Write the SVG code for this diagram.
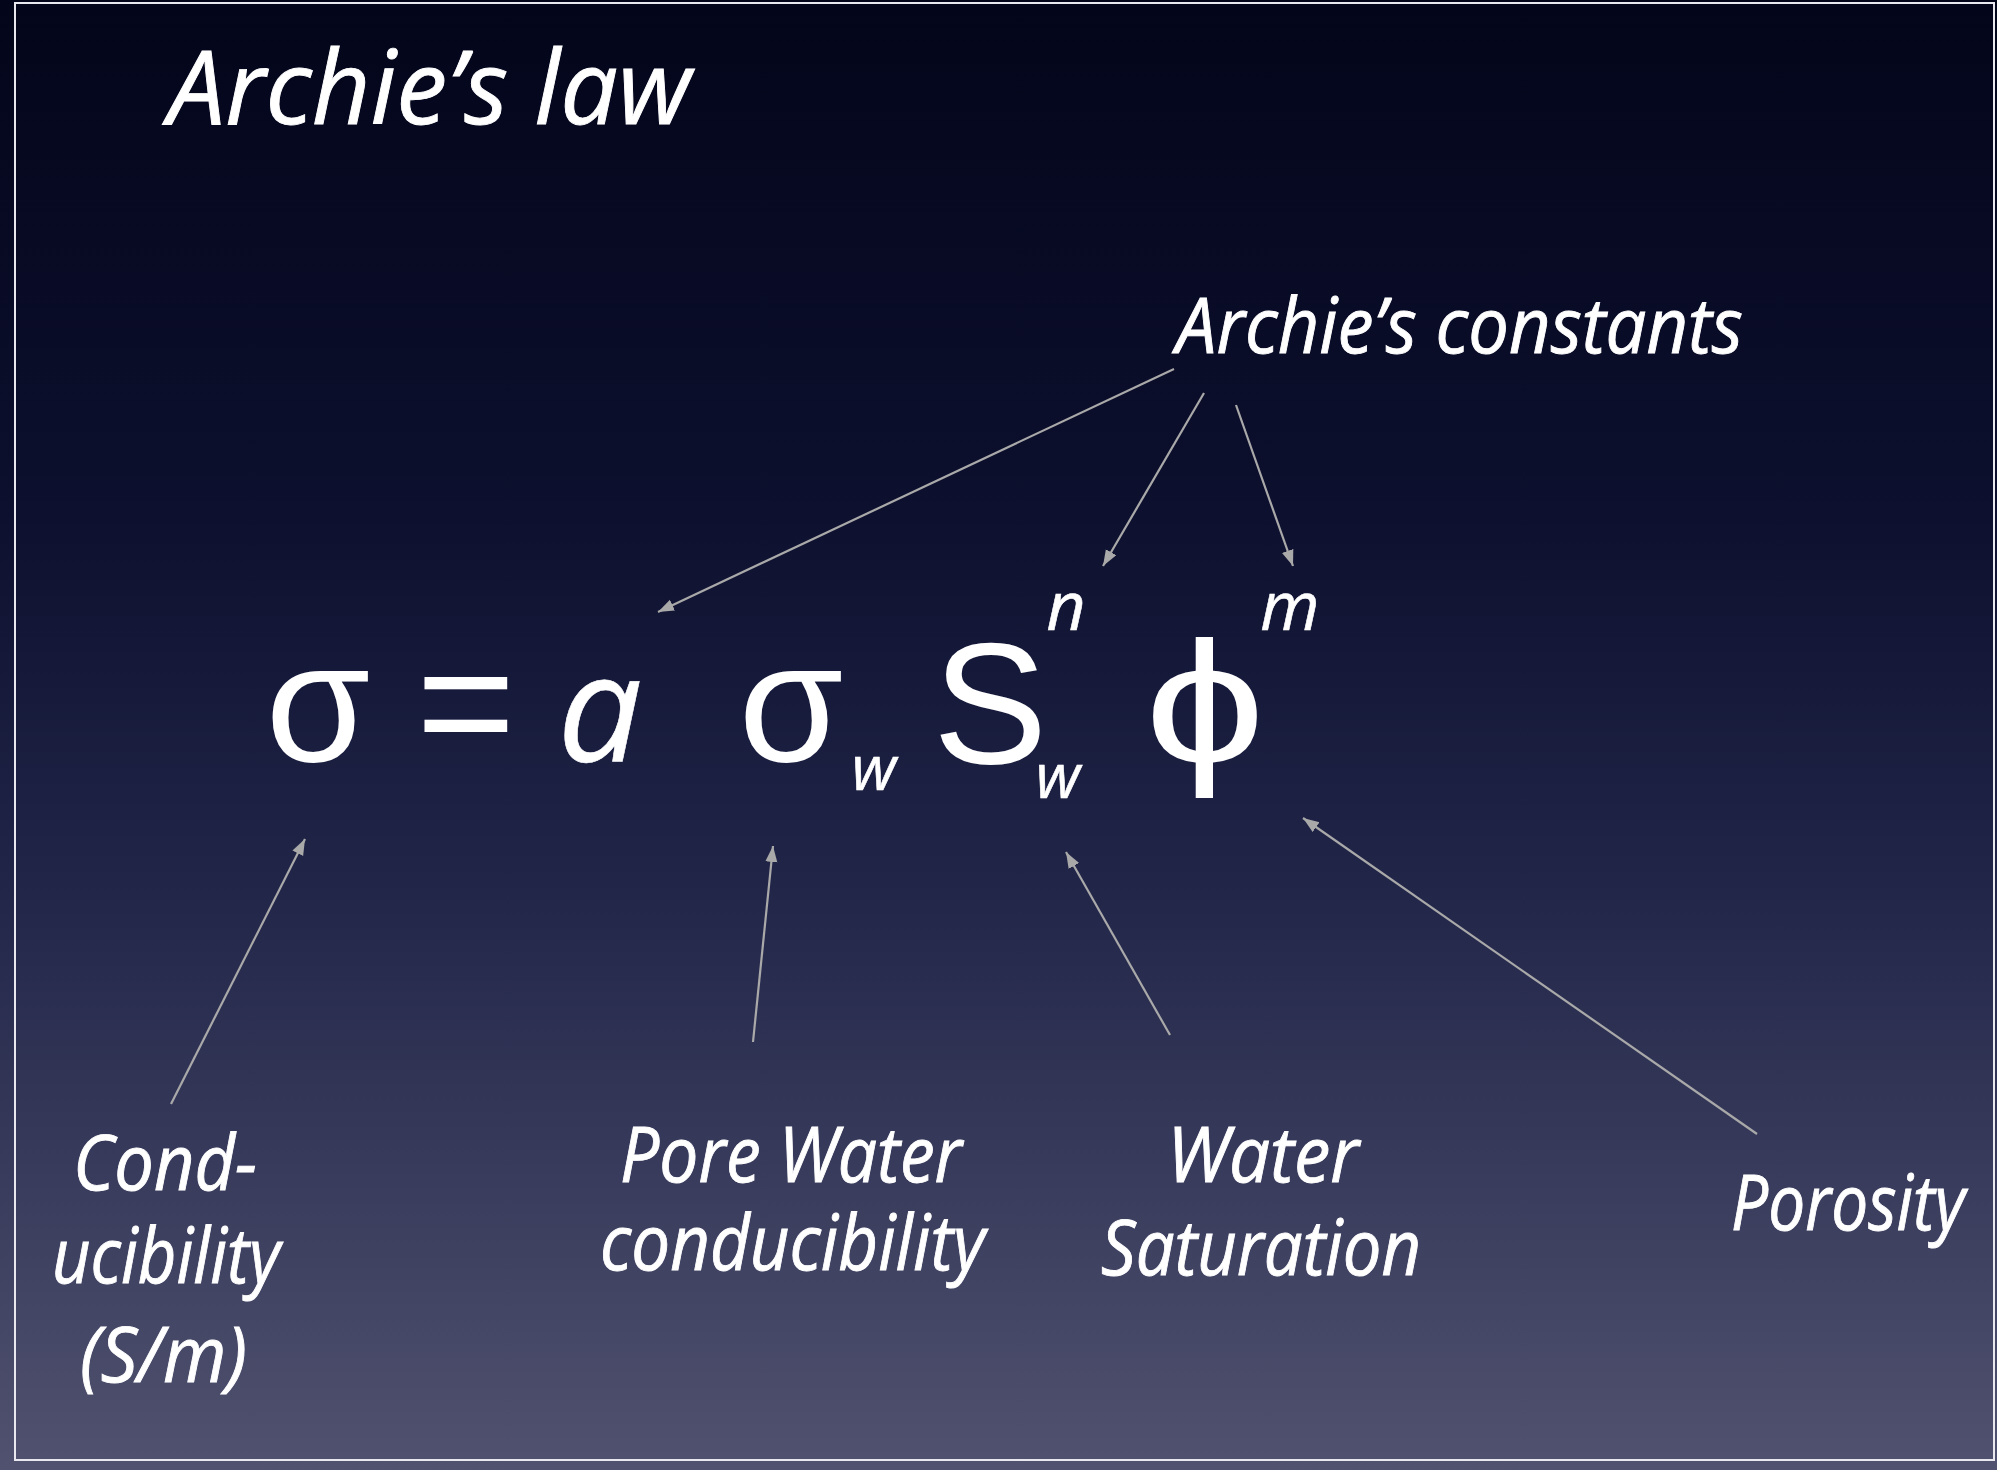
<svg xmlns="http://www.w3.org/2000/svg" width="1997" height="1470" viewBox="0 0 1997 1470">
<defs>
<linearGradient id="bg" x1="0" y1="0" x2="0" y2="1">
<stop offset="0" stop-color="#03051a"/>
<stop offset="0.35" stop-color="#0d102e"/>
<stop offset="0.6" stop-color="#212548"/>
<stop offset="1" stop-color="#50526f"/>
</linearGradient>
<marker id="ah" markerUnits="userSpaceOnUse" markerWidth="18" markerHeight="14" refX="16" refY="6" orient="auto">
<path d="M0,0 L16,6 L0,12 Z" fill="#a9a9a9"/>
</marker>
<style>
.lbl{font-family:"Open Sans","Noto Sans","Liberation Sans",sans-serif;font-style:italic;fill:#ffffff;stroke:#ffffff;stroke-width:0.9;}
.eq{font-family:"Liberation Sans","DejaVu Sans",Arial,sans-serif;fill:#ffffff;}
.eqi{font-family:"Open Sans","Noto Sans","Liberation Sans",sans-serif;font-style:italic;fill:#ffffff;stroke:#ffffff;stroke-width:0.6;}
.con{stroke:#a9a9a9;stroke-width:2.2;fill:none;marker-end:url(#ah);}
</style>
</defs>
<rect x="0" y="0" width="1997" height="1470" fill="url(#bg)"/>
<rect x="15" y="3" width="1979" height="1457" fill="none" stroke="#e8e8ee" stroke-width="2"/>

<g id="title"><text class="lbl" x="168" y="124" font-size="102" textLength="523" lengthAdjust="spacingAndGlyphs">Archie’s law</text></g>

<g id="constants"><text class="lbl" x="1176" y="353" font-size="76" textLength="567" lengthAdjust="spacingAndGlyphs">Archie’s constants</text></g>

<g id="equation">
<text class="eq" x="318" y="761" font-size="170" text-anchor="middle">σ</text>
<text class="eq" x="466" y="761" font-size="170" text-anchor="middle">=</text>
<text class="eqi" x="600" y="762" font-size="150" text-anchor="middle">a</text>
<text class="eq" x="791" y="761" font-size="170" text-anchor="middle">σ</text>
<text class="eqi" x="874" y="790" font-size="62" text-anchor="middle">w</text>
<text class="eq" x="990" y="763" font-size="172" text-anchor="middle">S</text>
<text class="eqi" x="1058" y="798" font-size="62" text-anchor="middle">w</text>
<text class="eqi" x="1066" y="630" font-size="68" text-anchor="middle">n</text>
<text class="eq" transform="translate(1205,762) scale(1.25,1)" x="0" y="0" font-size="172" text-anchor="middle">ϕ</text>
<text class="eqi" x="1290" y="630" font-size="68" text-anchor="middle">m</text>
</g>

<g id="conductivity">
<text class="lbl" x="73" y="1190" font-size="76" textLength="184" lengthAdjust="spacingAndGlyphs">Cond-</text>
<text class="lbl" x="52" y="1283" font-size="76" textLength="228" lengthAdjust="spacingAndGlyphs">ucibility</text>
<text class="lbl" x="80" y="1382" font-size="76" textLength="167" lengthAdjust="spacingAndGlyphs">(S/m)</text>
</g>

<g id="pore-water">
<text class="lbl" x="620" y="1182" font-size="76" textLength="342" lengthAdjust="spacingAndGlyphs">Pore Water</text>
<text class="lbl" x="600" y="1270" font-size="76" textLength="385" lengthAdjust="spacingAndGlyphs">conducibility</text>
</g>

<g id="water-saturation">
<text class="lbl" x="1167" y="1182" font-size="76" textLength="192" lengthAdjust="spacingAndGlyphs">Water</text>
<text class="lbl" x="1101" y="1275" font-size="76" textLength="320" lengthAdjust="spacingAndGlyphs">Saturation</text>
</g>

<g id="porosity"><text class="lbl" x="1731" y="1230" font-size="76" textLength="234" lengthAdjust="spacingAndGlyphs">Porosity</text></g>

<g id="connectors">
<line class="con" x1="1174" y1="369" x2="658" y2="612"/>
<line class="con" x1="1204" y1="393" x2="1103" y2="566"/>
<line class="con" x1="1236" y1="405" x2="1293" y2="566"/>
<line class="con" x1="171" y1="1104" x2="305" y2="839"/>
<line class="con" x1="753" y1="1042" x2="773" y2="846"/>
<line class="con" x1="1170" y1="1035" x2="1066" y2="852"/>
<line class="con" x1="1757" y1="1134" x2="1303" y2="818"/>
</g>
</svg>
